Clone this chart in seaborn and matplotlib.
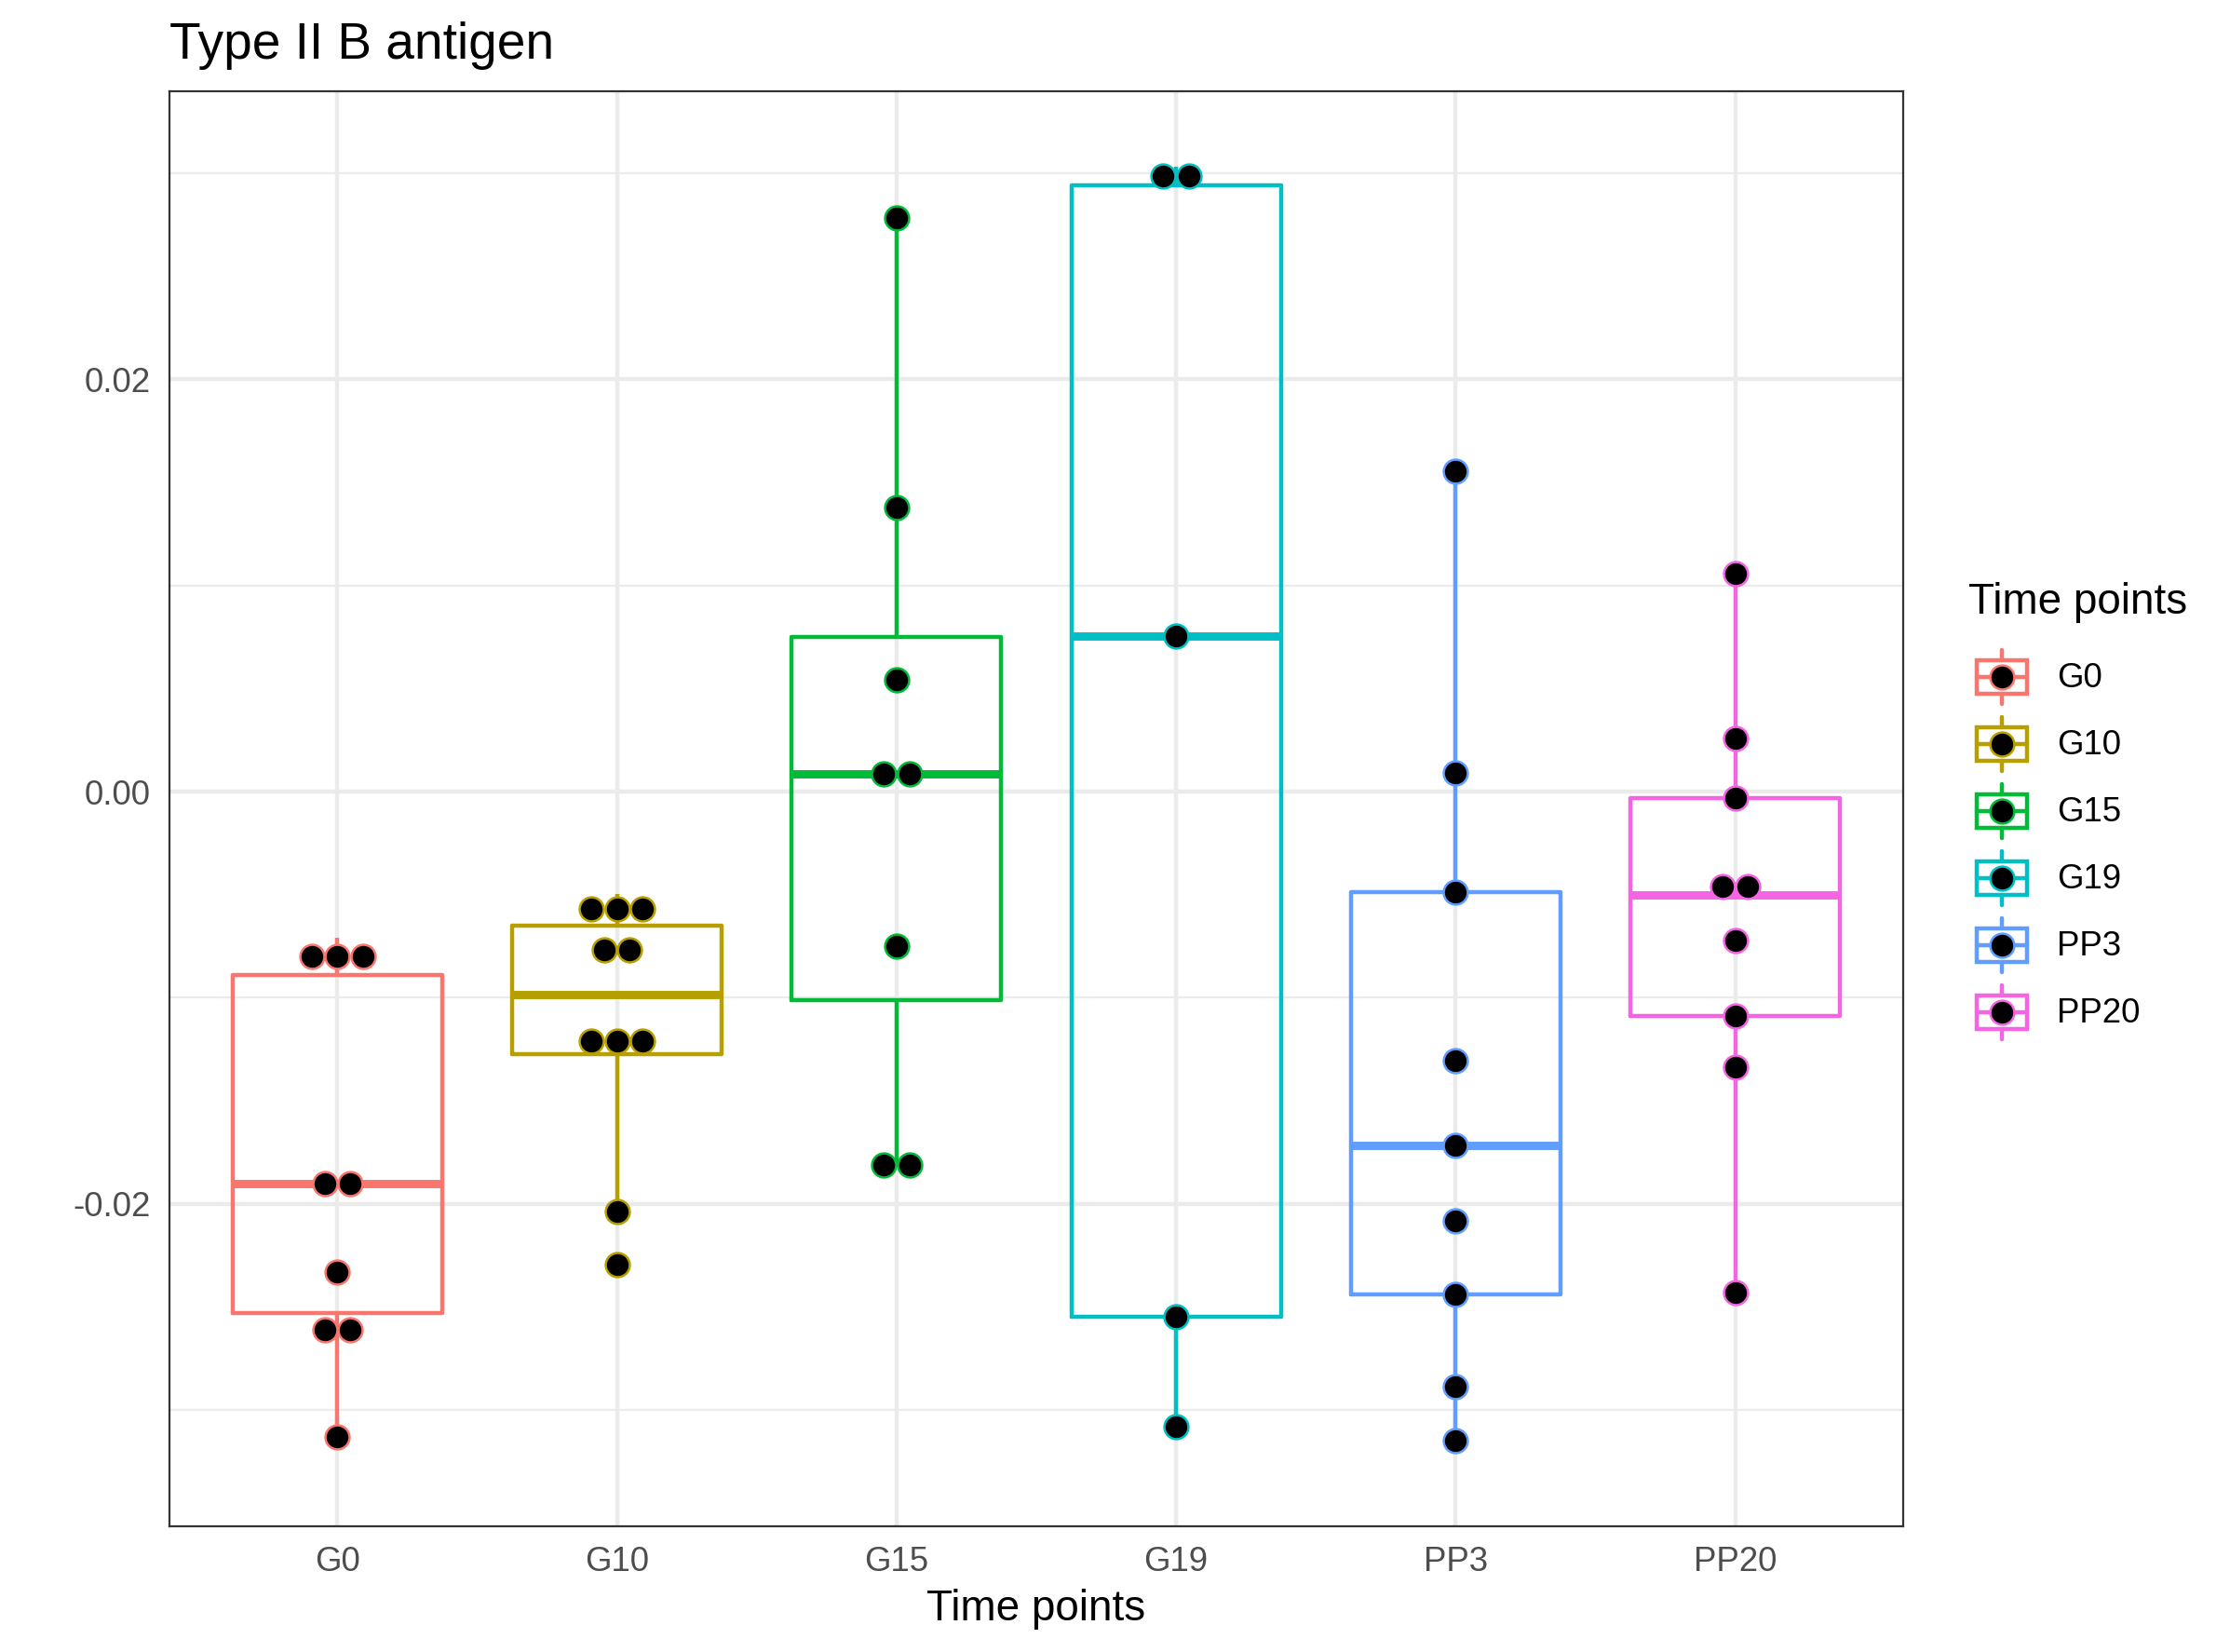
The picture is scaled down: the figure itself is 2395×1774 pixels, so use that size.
import numpy as np
import pandas as pd
import matplotlib
matplotlib.use("Agg")
import matplotlib.pyplot as plt
import seaborn as sns
from matplotlib.patches import Patch, Rectangle
from matplotlib.lines import Line2D
from matplotlib.legend_handler import HandlerBase
from matplotlib.ticker import FixedLocator, FormatStrFormatter

# values per time point
time_points = ['G0', 'G10', 'G15', 'G19', 'PP3', 'PP20']
g0 = [-0.0313, -0.0269, -0.0253, -0.0233, -0.0190, -0.0190, -0.0089, -0.0080, -0.0071]
g10 = [-0.02297, -0.02036, -0.01305, -0.01189, -0.01121, -0.00847, -0.00685, -0.00642, -0.00570, -0.00497]
g15 = [-0.01823, -0.01801, -0.00749, 0.00080, 0.00092, 0.00541, 0.01376, 0.02784]
g19 = [-0.03080, -0.02549, 0.00755, 0.02940, 0.03030]
pp3 = [-0.03151, -0.02888, -0.02440, -0.02081, -0.01715, -0.01308, -0.00487, 0.00092, 0.01556]
pp20 = [-0.02433, -0.01336, -0.01088, -0.00722, -0.00500, -0.00420, -0.00030, 0.00259, 0.01059]

colors = ['#F8766D', '#B79F00', '#00BA38', '#00BFC4', '#619CFF', '#F564E3']

BINWIDTH = 0.002
DOT_STEP = 0.091
DOT_MS = 6.2
LW = 1.07


def dot_bins(values, bw):
    """Group sorted values into dot-density bins, return (center, count)."""
    v = sorted(values)
    out = []
    i = 0
    while i < len(v):
        start = v[i]
        j = i
        while j < len(v) and v[j] < start + bw:
            j += 1
        grp = v[i:j]
        out.append(((grp[0] + grp[-1]) / 2, len(grp)))
        i = j
    return out


class BoxDotHandler(HandlerBase):
    def create_artists(self, legend, orig_handle, xdescent, ydescent,
                       width, height, fontsize, trans):
        c = orig_handle.get_edgecolor()
        x0, y0 = -xdescent, -ydescent
        w, h = width, height
        box = Rectangle((x0 + 0.125 * w, y0 + 0.25 * h), 0.75 * w, 0.5 * h,
                        fill=False, ec=c, lw=LW, transform=trans)
        med = Line2D([x0 + 0.125 * w, x0 + 0.875 * w], [y0 + 0.5 * h] * 2,
                     color=c, lw=LW, transform=trans)
        wl = Line2D([x0 + 0.5 * w] * 2, [y0 + 0.1 * h, y0 + 0.25 * h],
                    color=c, lw=LW, transform=trans)
        wu = Line2D([x0 + 0.5 * w] * 2, [y0 + 0.75 * h, y0 + 0.9 * h],
                    color=c, lw=LW, transform=trans)
        dot = Line2D([x0 + 0.5 * w], [y0 + 0.5 * h], marker='o', ms=DOT_MS,
                     mfc='black', mec=c, mew=0.6, ls='none', transform=trans)
        return [box, med, wl, wu, dot]


sns.set_style('white')
plt.rcParams['font.family'] = ['Liberation Sans', 'DejaVu Sans']
plt.rcParams['axes.unicode_minus'] = False
plt.rcParams['text.color'] = 'black'

groups = [g0, g10, g15, g19, pp3, pp20]
df = pd.DataFrame({
    'time': np.repeat(time_points, [len(g) for g in groups]),
    'value': np.concatenate(groups),
})

fig = plt.figure(figsize=(2395 / 300, 1774 / 300), dpi=300)
ax = fig.add_axes([182 / 2395, 1 - 1639 / 1774, 1862 / 2395, 1541 / 1774])

sns.boxplot(data=df, x='time', y='value', hue='time', order=time_points,
            hue_order=time_points, palette=colors, fill=False, width=0.75,
            linewidth=LW, showfliers=False, showcaps=False, whis=1.5,
            legend=False, medianprops={'linewidth': 2 * LW}, ax=ax)

# dot-density style points, stacked centrally inside each bin
for i, vals in enumerate(groups):
    for center, n in dot_bins(vals, BINWIDTH):
        xs = i + (np.arange(n) - (n - 1) / 2) * DOT_STEP
        ax.scatter(xs, [center] * n, s=DOT_MS ** 2, c='black',
                   edgecolors=colors[i], linewidths=0.6, zorder=4)

ax.set_xlim(-0.6, 5.6)
ax.set_ylim(-0.03565, 0.03398)
ax.set_yticks([-0.02, 0.0, 0.02])
ax.yaxis.set_major_formatter(FormatStrFormatter('%.2f'))
ax.yaxis.set_minor_locator(FixedLocator([-0.03, -0.01, 0.01, 0.03]))

ax.set_axisbelow(True)
ax.grid(True, which='major', color='#EBEBEB', lw=LW)
ax.grid(True, which='minor', axis='y', color='#EBEBEB', lw=LW / 2)
ax.tick_params(which='major', length=2.75, width=LW, color='#333333',
               labelcolor='#4D4D4D', labelsize=8.8, pad=2.2)
ax.tick_params(which='minor', length=0)
for sp in ax.spines.values():
    sp.set_visible(True)
    sp.set_color('#333333')
    sp.set_linewidth(0.53)

ax.set_xlabel('Time points', fontsize=11, color='black', labelpad=2.75)
ax.set_ylabel('')
ax.set_title('Type II B antigen', loc='left', fontsize=13.2, pad=8.4,
             color='black')

handles = [Patch(facecolor='none', edgecolor=c) for c in colors]
leg = ax.legend(handles, time_points, handler_map={Patch: BoxDotHandler()},
                loc='center left', bbox_to_anchor=(2114 / 2395, 1 - 874 / 1774),
                bbox_transform=fig.transFigure, frameon=False, fontsize=8.8,
                title='Time points', title_fontsize=11, alignment='left',
                handlelength=1.9636, handleheight=2.644, labelspacing=0,
                handletextpad=0.625, borderpad=0, borderaxespad=0,
                labelcolor='black')
leg.get_title().set_color('black')
# gap between the legend title and the keys
leg._legend_box.sep = 5.2

fig.savefig('out.png', dpi=300)
